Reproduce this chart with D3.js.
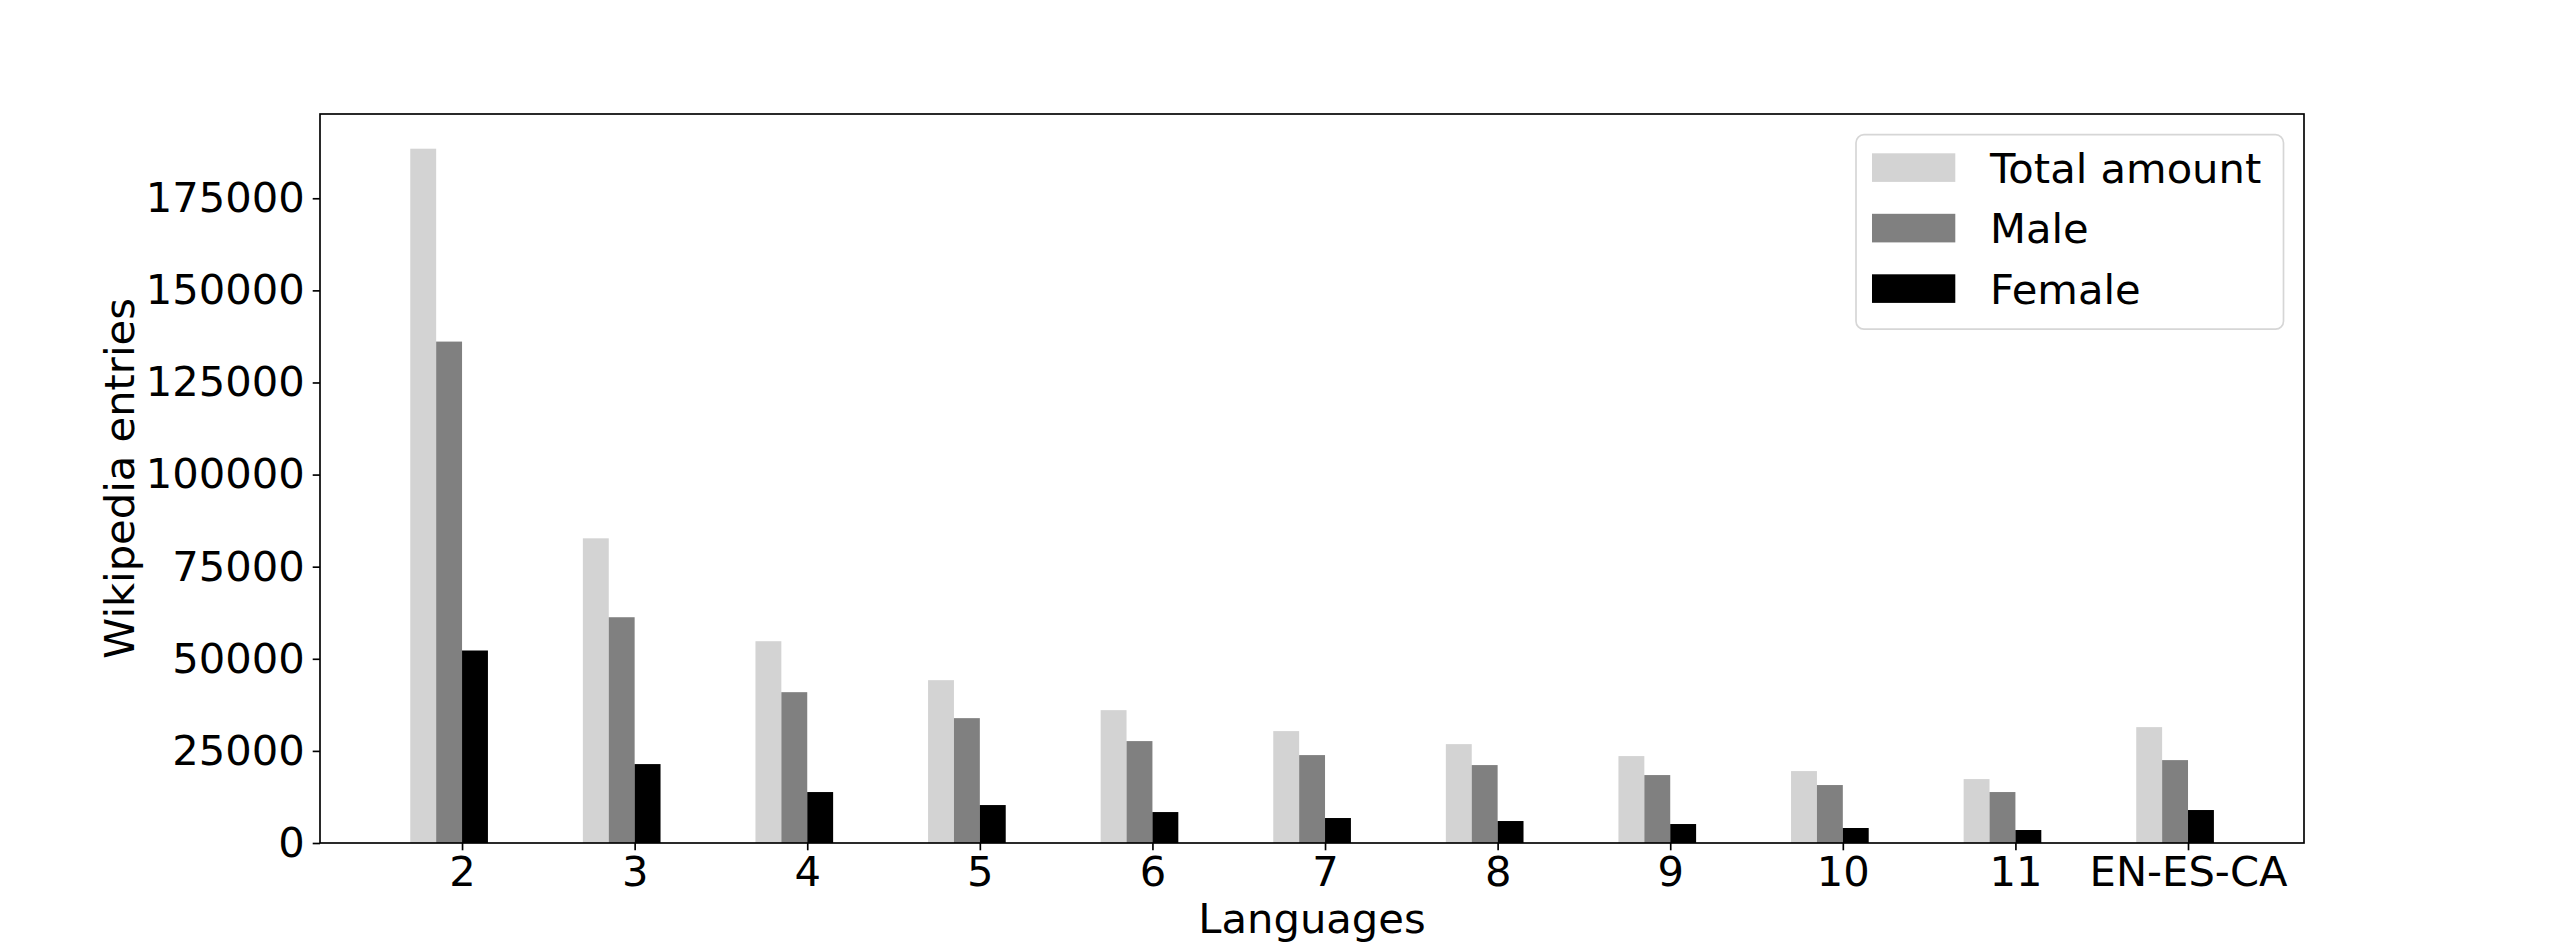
<!DOCTYPE html>
<html>
<head>
<meta charset="utf-8">
<script src="https://cdn.jsdelivr.net/npm/d3@7"></script>
<style>
    body { margin: 0; background: #fff; }
    text { font-family: "DejaVu Sans", sans-serif; fill: #000; }
</style>
</head>
<body>
<div id="chart-container"></div>
<script>
// Categories (number of languages an entry exists in)
const languages = ["2", "3", "4", "5", "6", "7", "8", "9", "10", "11", "EN-ES-CA"];

// Series values
const totalAmount = [188450, 82700, 54770, 44200, 36060, 30370, 26840, 23590, 19520, 17350, 31450];
const maleCount = [136100, 61280, 40940, 33890, 27660, 23860, 21150, 18440, 15730, 13830, 22500];
const femaleCount = [52250, 21420, 13830, 10300, 8400, 6780, 5965, 5150, 4070, 3525, 8950];

const seriesNames = ["Total amount", "Male", "Female"];
const yTicks = [0, 25000, 50000, 75000, 100000, 125000, 150000, 175000];

// offset = left edge of the bar, in bar widths from the tick
const series = [
    { name: seriesNames[0], values: totalAmount, color: "#d3d3d3", offset: -2 },
    { name: seriesNames[1], values: maleCount, color: "#808080", offset: -1 },
    { name: seriesNames[2], values: femaleCount, color: "#000000", offset: 0 }
];

const width = 2560;
const height = 947;
const margin = { top: 114, right: 256, bottom: 104, left: 320 };
const barWidth = 0.15; // in category units
const fontSize = "41.67px";
const lineW = 1.67;

const svg = d3.select("#chart-container")
    .append("svg")
    .attr("width", width)
    .attr("height", height);

// x: category index, y: entry count
const xScale = d3.scaleLinear()
    .domain([-0.823, languages.length - 1 + 0.672])
    .range([margin.left, width - margin.right]);

const yScale = d3.scaleLinear()
    .domain([0, d3.max(totalAmount) * 1.05])
    .range([height - margin.bottom, margin.top]);

// Bars
series.forEach((s) => {
    svg.append("g")
        .selectAll("rect")
        .data(s.values)
        .enter()
        .append("rect")
        .attr("x", (d, i) => xScale(i + s.offset * barWidth))
        .attr("y", (d) => yScale(d))
        .attr("width", xScale(barWidth) - xScale(0))
        .attr("height", (d) => yScale(0) - yScale(d))
        .attr("fill", s.color);
});

// Axes
const xAxis = svg.append("g")
    .attr("transform", `translate(0, ${height - margin.bottom})`)
    .call(
        d3.axisBottom(xScale)
            .tickValues(d3.range(languages.length))
            .tickFormat((i) => languages[i])
            .tickSize(7.3)
            .tickPadding(6)
            .tickSizeOuter(0)
    );

const yAxis = svg.append("g")
    .attr("transform", `translate(${margin.left}, 0)`)
    .call(
        d3.axisLeft(yScale)
            .tickValues(yTicks)
            .tickFormat(d3.format("d"))
            .tickSize(7.3)
            .tickPadding(8)
            .tickSizeOuter(0)
    );

[xAxis, yAxis].forEach((ax) => {
    ax.select(".domain").remove();
    ax.selectAll("line").attr("stroke", "#000").attr("stroke-width", lineW);
    ax.selectAll("text")
        .style("font-size", fontSize)
        .style("font-family", "'DejaVu Sans', sans-serif");
});

// Frame around plot area
svg.append("rect")
    .attr("x", margin.left)
    .attr("y", margin.top)
    .attr("width", width - margin.left - margin.right)
    .attr("height", height - margin.top - margin.bottom)
    .attr("fill", "none")
    .attr("stroke", "#000")
    .attr("stroke-width", lineW);

// Axis labels
svg.append("text")
    .attr("x", (margin.left + width - margin.right) / 2)
    .attr("y", 932.7)
    .attr("text-anchor", "middle")
    .style("font-size", fontSize)
    .text("Languages");

svg.append("text")
    .attr("transform", `translate(134, ${(margin.top + height - margin.bottom) / 2}) rotate(-90)`)
    .attr("text-anchor", "middle")
    .style("font-size", fontSize)
    .text("Wikipedia entries");

// Legend
const legend = svg.append("g").attr("transform", "translate(1856, 134.7)");

legend.append("rect")
    .attr("width", 427.5)
    .attr("height", 194.5)
    .attr("rx", 8)
    .attr("fill", "#fff")
    .attr("stroke", "#d6d6d6")
    .attr("stroke-width", lineW);

series.forEach((s, i) => {
    legend.append("rect")
        .attr("x", 16)
        .attr("y", 18.6 + i * 60.5)
        .attr("width", 83.3)
        .attr("height", 28.6)
        .attr("fill", s.color);
    legend.append("text")
        .attr("x", 134)
        .attr("y", 48.6 + i * 60.2)
        .style("font-size", fontSize)
        .text(s.name);
});
</script>
</body>
</html>
